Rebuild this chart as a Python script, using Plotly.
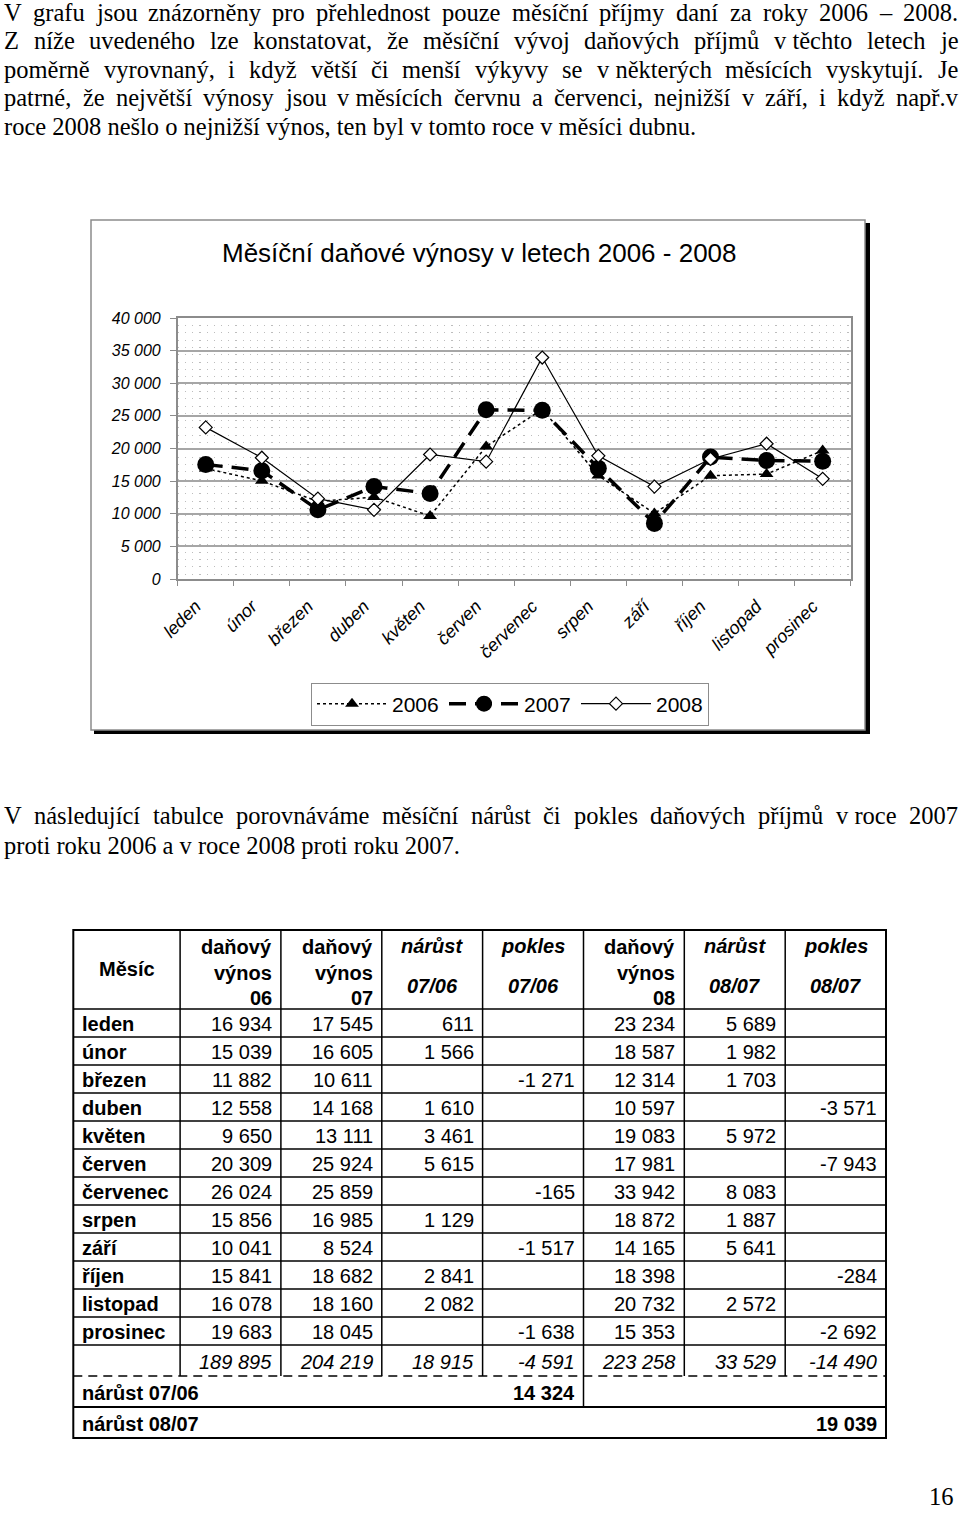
import unicodedata
import plotly.graph_objects as go

W, H = 960, 1513


def px(x):
    return x / W


def py(y):
    return 1 - y / H


# ---------------- data ----------------
months = ['leden', 'únor', 'březen', 'duben', 'květen', 'červen', 'červenec',
          'srpen', 'září', 'říjen', 'listopad', 'prosinec']
v06 = [16934, 15039, 11882, 12558, 9650, 20309, 26024, 15856, 10041, 15841, 16078, 19683]
v07 = [17545, 16605, 10611, 14168, 13111, 25924, 25859, 16985, 8524, 18682, 18160, 18045]
v08 = [23234, 18587, 12314, 10597, 19083, 17981, 33942, 18872, 14165, 18398, 20732, 15353]
narust_0706 = [611, 1566, None, 1610, 3461, 5615, None, 1129, None, 2841, 2082, None]
pokles_0706 = [None, None, -1271, None, None, None, -165, None, -1517, None, None, -1638]
narust_0807 = [5689, 1982, 1703, None, 5972, None, 8083, 1887, 5641, None, 2572, None]
pokles_0807 = [None, None, None, -3571, None, -7943, None, None, None, -284, None, -2692]
totals = [189895, 204219, 18915, -4591, 223258, 33529, -14490]
net_0706 = 14324
net_0807 = 19039
series_names = ['2006', '2007', '2008']

chart_title = 'Měsíční daňové výnosy v letech 2006 - 2008'

para1 = [
    'V grafu jsou znázorněny pro přehlednost pouze měsíční příjmy daní za roky 2006 – 2008.',
    'Z níže uvedeného lze konstatovat, že měsíční vývoj daňových příjmů v\u00a0těchto letech je',
    'poměrně vyrovnaný, i když větší či menší výkyvy se v\u00a0některých měsících vyskytují. Je',
    'patrné, že největší výnosy jsou v\u00a0měsících červnu a červenci, nejnižší v září, i když např.v',
    'roce 2008 nešlo o nejnižší výnos, ten byl v tomto roce v měsíci dubnu.',
]
para2 = [
    'V následující tabulce porovnáváme měsíční nárůst či pokles daňových příjmů v\u00a0roce 2007',
    'proti roku 2006 a v roce 2008 proti roku 2007.',
]
page_number = '16'

SERIF = 'Liberation Serif, Times New Roman, serif'
SANS = 'Liberation Sans, Arial, sans-serif'

# Times widths (per 1000 em)
TIMES = {' ': 250, '\u00a0': 250, '.': 250, ',': 250, '–': 500, '-': 333,
         'A': 722, 'J': 389, 'V': 722, 'Z': 611,
         'a': 444, 'b': 500, 'c': 444, 'd': 500, 'e': 444, 'f': 333, 'g': 500,
         'h': 500, 'i': 278, 'j': 278, 'k': 500, 'l': 278, 'm': 778, 'n': 500,
         'o': 500, 'p': 500, 'q': 500, 'r': 333, 's': 389, 't': 278, 'u': 500,
         'v': 500, 'w': 722, 'x': 500, 'y': 500, 'z': 444}
for d in '0123456789':
    TIMES[d] = 500


def tw(s, fs):
    w = 0
    for ch in s:
        if ch in TIMES:
            w += TIMES[ch]
        else:
            base = unicodedata.normalize('NFD', ch)[0]
            w += TIMES.get(base, 500)
    return w * fs / 1000


def fmt(v):
    if v is None:
        return ''
    return f'{v:,}'.replace(',', '\u00a0')


annotations = []
shapes = []


def text(x, y, s, size, family=SANS, xanchor='left', bold=False, italic=False, color='black'):
    annotations.append(dict(
        x=px(x), y=py(y), xref='paper', yref='paper', text=s, showarrow=False,
        xanchor=xanchor, yanchor='middle', borderpad=0,
        font=dict(family=family, size=size, color=color,
                  weight='bold' if bold else 'normal',
                  style='italic' if italic else 'normal')))


def paragraph(lines, y0, pitch, fs, x0=3, x1=957):
    for i, line in enumerate(lines):
        y = y0 + i * pitch
        words = line.split(' ')
        justify = i < len(lines) - 1
        if justify and len(words) > 1:
            widths = [tw(w_, fs) for w_ in words]
            gap = (x1 - x0 - sum(widths)) / (len(words) - 1)
            x = x0
            for w_, wd in zip(words, widths):
                text(x, y, w_, fs, family=SERIF)
                x += wd + gap
        else:
            text(x0, y, line, fs, family=SERIF)


PFS = 24.5
paragraph(para1, 12.5, 28.5, PFS)
paragraph(para2, 815, 30, PFS)
text(955, 1496, page_number, PFS, family=SERIF, xanchor='right')

# ---------------- chart box ----------------
shapes.append(dict(type='rect', xref='paper', yref='paper', layer='below',
                   x0=px(94), x1=px(870), y0=py(734), y1=py(223),
                   fillcolor='black', line=dict(width=0)))
shapes.append(dict(type='rect', xref='paper', yref='paper', layer='below',
                   x0=px(91), x1=px(865), y0=py(730), y1=py(220),
                   fillcolor='white', line=dict(color='#8c8c8c', width=1.5)))
text(479, 253, chart_title, 26, xanchor='center')

fig = go.Figure()
fig.add_trace(go.Scatter(
    x=months, y=v06, name=series_names[0], mode='lines+markers',
    line=dict(color='black', width=1.5, dash='dot'),
    marker=dict(symbol='triangle-up', size=12, color='black')))
fig.add_trace(go.Scatter(
    x=months, y=v07, name=series_names[1], mode='lines+markers',
    line=dict(color='black', width=3.5, dash='17px,9px'),
    marker=dict(symbol='circle', size=17, color='black')))
fig.add_trace(go.Scatter(
    x=months, y=v08, name=series_names[2], mode='lines+markers',
    line=dict(color='black', width=1.2),
    marker=dict(symbol='diamond', size=10, color='white',
                line=dict(color='black', width=1.2))))

# ---------------- table ----------------
xs = [73.3, 180.1, 280.9, 381.8, 482.6, 583.5, 684.3, 785.2, 886]
y_top, y_head = 930, 1009
row_h = 28
y_rows_end = y_head + 12 * row_h  # 1345
y_tot, y_n1, y_n2 = 1376, 1407, 1438
TFS = 20


def hline(y, x0, x1, width=1.5, dash=None):
    ln = dict(color='black', width=width)
    if dash:
        ln['dash'] = dash
    shapes.append(dict(type='line', xref='paper', yref='paper',
                       x0=px(x0), x1=px(x1), y0=py(y), y1=py(y), line=ln))


def vline(x, y0, y1, width=1.5):
    shapes.append(dict(type='line', xref='paper', yref='paper',
                       x0=px(x), x1=px(x), y0=py(y0), y1=py(y1),
                       line=dict(color='black', width=width)))


for k in range(13):
    hline(y_head + k * row_h, xs[0], xs[-1])
hline(y_tot, xs[0], xs[-1], width=1.5, dash='9px,6px')
hline(y_n1, xs[0], xs[-1], width=2)
for xv in xs[1:-1]:
    vline(xv, y_top, y_tot)
vline(xs[5], y_tot, y_n1)
shapes.append(dict(type='rect', xref='paper', yref='paper',
                   x0=px(xs[0]), x1=px(xs[-1]), y0=py(y_n2), y1=py(y_top),
                   line=dict(color='black', width=2)))

# header
pad = 8
text((xs[0] + xs[1]) / 2, 969, 'Měsíc', TFS, xanchor='center', bold=True)
for ci, yr in [(1, '06'), (2, '07'), (5, '08')]:
    xr = xs[ci + 1] - pad
    text(xr, 947, 'daňový', TFS, xanchor='right', bold=True)
    text(xr, 973, 'výnos', TFS, xanchor='right', bold=True)
    text(xr, 998, yr, TFS, xanchor='right', bold=True)
for ci, top, bot in [(3, 'nárůst', '07/06'), (4, 'pokles', '07/06'),
                     (6, 'nárůst', '08/07'), (7, 'pokles', '08/07')]:
    xc = (xs[ci] + xs[ci + 1]) / 2
    text(xc, 946, top, TFS, xanchor='center', bold=True, italic=True)
    text(xc, 986, bot, TFS, xanchor='center', bold=True, italic=True)

# data rows
cols = [v06, v07, narust_0706, pokles_0706, v08, narust_0807, pokles_0807]
for r, m in enumerate(months):
    yc = y_head + r * row_h + row_h / 2 + 1
    text(xs[0] + 8, yc, m, TFS, bold=True)
    for ci, col in enumerate(cols):
        s = fmt(col[r])
        if s:
            text(xs[ci + 2] - pad, yc, s, TFS, xanchor='right')

# totals row
for ci, v in enumerate(totals):
    text(xs[ci + 2] - pad, (y_rows_end + y_tot) / 2 + 1, fmt(v), TFS, xanchor='right', italic=True)
text(xs[0] + 8, (y_tot + y_n1) / 2 + 1, 'nárůst 07/06', TFS, bold=True)
text(xs[5] - pad, (y_tot + y_n1) / 2 + 1, fmt(net_0706), TFS, xanchor='right', bold=True)
text(xs[0] + 8, (y_n1 + y_n2) / 2 + 1, 'nárůst 08/07', TFS, bold=True)
text(xs[-1] - pad, (y_n1 + y_n2) / 2 + 1, fmt(net_0807), TFS, xanchor='right', bold=True)

fig.update_layout(
    width=W, height=H, margin=dict(l=0, r=0, t=0, b=0, autoexpand=False),
    paper_bgcolor='white', plot_bgcolor='rgba(0,0,0,0)',
    separators=', ',
    showlegend=True,
    xaxis=dict(domain=[px(177.7), px(850.7)], type='category', range=[-0.5, 11.5],
               automargin=False,
               showline=True, mirror=True, linecolor='#8c8c8c', linewidth=1.5,
               ticks='outside', tickson='boundaries', ticklen=5, tickcolor='#8c8c8c',
               tickangle=-45, showgrid=False, zeroline=False,
               ticklabelshift=-10, ticklabelstandoff=8,
               tickfont=dict(family=SANS, size=18, style='italic', color='black')),
    yaxis=dict(domain=[py(579), py(318)], range=[0, 40000], dtick=5000, tickformat=',d',
               automargin=False,
               showline=True, mirror=True, linecolor='#8c8c8c', linewidth=1.5,
               ticks='outside', ticklen=6, tickcolor='#8c8c8c', ticklabelstandoff=6,
               showgrid=True, gridcolor='#a6a6a6', gridwidth=1.5, zeroline=False,
               tickfont=dict(family=SANS, size=16, style='italic', color='black'),
               minor=dict(tickmode='linear', tick0=750, dtick=1120, showgrid=True,
                          gridcolor='#bdbdbd', gridwidth=1.3, griddash='1.3px,5.9px',
                          ticklen=0)),
    legend=dict(orientation='h', x=px(510), xanchor='center', y=py(704), yanchor='middle',
                bordercolor='#8c8c8c', borderwidth=1, bgcolor='white',
                itemwidth=70, entrywidth=47, entrywidthmode='pixels',
                font=dict(family=SANS, size=21, color='black')),
    annotations=annotations, shapes=shapes,
)

fig.write_html('out.html')
